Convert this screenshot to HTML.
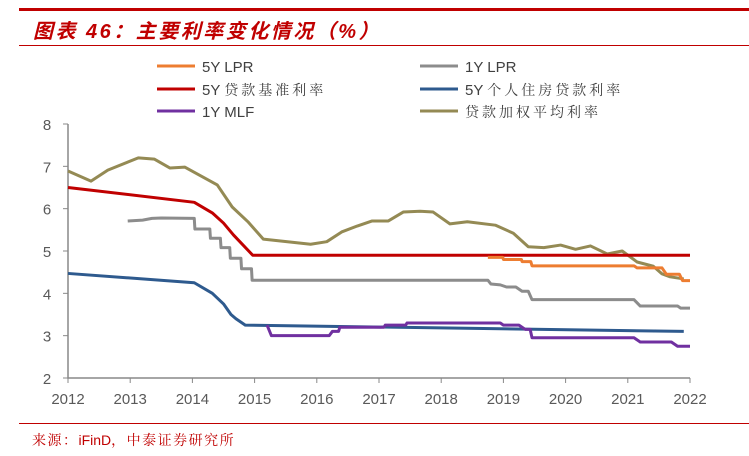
<!DOCTYPE html>
<html><head><meta charset="utf-8"><style>
body{margin:0;background:#fff;width:749px;height:456px;overflow:hidden;position:relative;font-family:"Liberation Sans","Noto Sans CJK SC",sans-serif}
.t{position:absolute}
</style></head><body>
<div class="t" style="left:19px;top:8px;width:730px;height:3px;background:#c00000"></div>
<div class="t" style="left:33px;top:15px;font-size:20px;letter-spacing:2.5px;font-weight:bold;font-style:italic;color:#c00000;font-family:'Liberation Sans','Noto Sans CJK SC',sans-serif">图表 46：主要利率变化情况（%）</div>
<div class="t" style="left:19px;top:45px;width:730px;height:1px;background:#c00000"></div>
<div class="t" style="left:19px;top:423px;width:730px;height:1px;background:#c00000"></div>
<div class="t" style="left:32px;top:430px;font-size:14px;letter-spacing:1.5px;color:#c00000;font-family:'Liberation Sans','Noto Serif CJK SC',serif">来源：<span style="font-family:'Liberation Sans',sans-serif;letter-spacing:0">iFinD</span>，中泰证券研究所</div>
<svg id="c" width="749" height="456" style="position:absolute;left:0;top:0"></svg>
<script>
const xTicks=[2012,2013,2014,2015,2016,2017,2018,2019,2020,2021,2022];
const yTicks=[2,3,4,5,6,7,8];
const seriesNames=["5Y LPR","1Y LPR","5Y 贷款基准利率","5Y 个人住房贷款利率","1Y MLF","贷款加权平均利率"];
const seriesColors=["#ed7d31","#8c8c8c","#c00000","#2e5a8e","#7030a0","#948a54"];
const lpr5X=[2018.75,2018.99,2019.0,2019.29,2019.3,2019.44,2019.46,2021.1,2021.15,2021.55,2021.62,2021.83,2021.88,2022];
const lpr5Y=[4.85,4.85,4.8,4.8,4.75,4.75,4.65,4.65,4.6,4.6,4.45,4.45,4.3,4.3];
const lpr1X=[2012.96,2013.2,2013.35,2013.5,2014.03,2014.04,2014.28,2014.29,2014.45,2014.46,2014.6,2014.61,2014.78,2014.79,2014.95,2014.96,2018.75,2018.8,2018.95,2019.05,2019.2,2019.3,2019.4,2019.46,2021.1,2021.2,2021.8,2021.85,2022];
const lpr1Y=[5.71,5.73,5.77,5.78,5.77,5.52,5.52,5.3,5.3,5.08,5.08,4.83,4.83,4.58,4.58,4.31,4.31,4.22,4.2,4.15,4.15,4.05,4.05,3.85,3.85,3.7,3.7,3.65,3.65];
const benchX=[2012,2014.03,2014.32,2014.5,2014.66,2014.97,2022];
const benchY=[6.5,6.15,5.9,5.66,5.38,4.9,4.9];
const houseX=[2012,2014.03,2014.32,2014.5,2014.62,2014.7,2014.85,2021.9];
const houseY=[4.47,4.25,4.0,3.75,3.5,3.4,3.25,3.1];
const mlfX=[2015.2,2015.27,2016.2,2016.25,2016.35,2016.37,2017.08,2017.1,2017.43,2017.45,2018.95,2019.0,2019.25,2019.35,2019.43,2019.46,2021.1,2021.2,2021.7,2021.8,2022];
const mlfY=[3.25,3.0,3.0,3.1,3.1,3.2,3.2,3.25,3.25,3.3,3.3,3.25,3.25,3.15,3.15,2.95,2.95,2.85,2.85,2.75,2.75];
const wavgX=[2012,2012.37,2012.64,2013.13,2013.39,2013.64,2013.88,2014.4,2014.64,2014.9,2015.14,2015.9,2016.16,2016.4,2016.65,2016.89,2017.15,2017.39,2017.66,2017.87,2018.14,2018.42,2018.87,2019.16,2019.4,2019.65,2019.92,2020.16,2020.4,2020.67,2020.91,2021.15,2021.41,2021.55,2021.68,2021.9];
const wavgY=[6.89,6.65,6.91,7.2,7.17,6.96,6.98,6.56,6.04,5.68,5.28,5.16,5.22,5.45,5.59,5.71,5.71,5.92,5.94,5.92,5.64,5.69,5.61,5.42,5.1,5.08,5.14,5.04,5.12,4.93,5.0,4.74,4.64,4.46,4.39,4.34];
const NS="http://www.w3.org/2000/svg",svg=document.getElementById('c');
const X0=68,X1=690,Y0=378,Y1=124;
const sx=v=>X0+(v-2012)/(2022-2012)*(X1-X0);
const sy=v=>Y0-(v-2)/(8-2)*(Y0-Y1);
function mk(t,a,p){const e=document.createElementNS(NS,t);for(const k in a)e.setAttribute(k,a[k]);(p||svg).appendChild(e);return e;}
let ax=mk('path',{d:`M${X0},${Y1}V${Y0}H${X1}`,stroke:'#888',fill:'none','stroke-width':1.5});


yTicks.forEach(v=>{
 let l=mk('line',{x1:X0-5,x2:X0,y1:sy(v),y2:sy(v),stroke:'#888'});
 
 
 let t=mk('text',{x:X0-21,y:sy(v)+6,'text-anchor':'middle','font-size':15,fill:'#595959'});t.textContent=v;
 
 
});
xTicks.forEach(v=>{
 let l=mk('line',{x1:sx(v),x2:sx(v),y1:Y0,y2:Y0+5,stroke:'#888'});
 
 
 let t=mk('text',{x:sx(v),y:Y0+26,'text-anchor':'middle','font-size':15,fill:'#595959'});t.textContent=v;
 
 
});
const data=[[lpr5X,lpr5Y],[lpr1X,lpr1Y],[benchX,benchY],[houseX,houseY],[mlfX,mlfY],[wavgX,wavgY]];
const order=[5,1,2,3,0,4];
order.forEach(i=>{
 const [xs,ys]=data[i];
 let p=mk('polyline',{points:xs.map((x,j)=>sx(x)+','+sy(ys[j])).join(' '),fill:'none',stroke:seriesColors[i],'stroke-width':3,'stroke-linejoin':'round'});
 
 
});
const legPos=[[157,66],[420,66],[157,89],[420,89],[157,111],[420,111]];
seriesNames.forEach((n,i)=>{
 const [lx,ly]=legPos[i];
 let l=mk('line',{x1:lx,x2:lx+38,y1:ly,y2:ly,stroke:seriesColors[i],'stroke-width':3});
 
 
 let t=mk('text',{x:lx+45,y:ly+6,'font-size':15,fill:'#404040'});
 
 
 const m=n.match(/^([\x00-\x7F]*)(.*)$/);
 if(m[1]){let a=mk('tspan',{},t);a.textContent=m[1];}
 if(m[2]){let b=mk('tspan',{'font-family':'Noto Serif CJK SC, serif','letter-spacing':3,'font-size':14},t);b.textContent=m[2];}
});
</script>
</body></html>
